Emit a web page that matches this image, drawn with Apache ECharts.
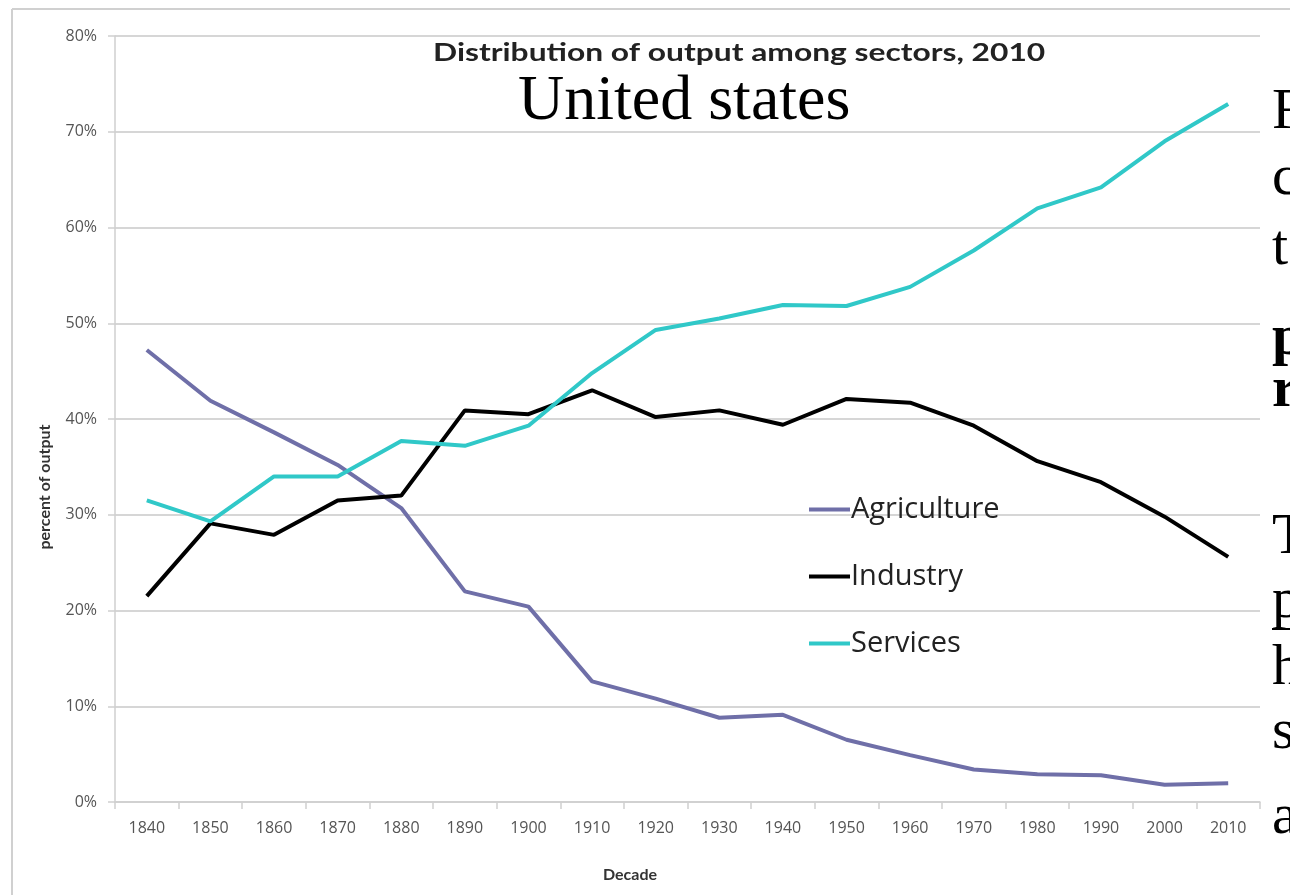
<!DOCTYPE html>
<html>
<head>
<meta charset="utf-8">
<script src="https://cdn.jsdelivr.net/npm/echarts@6/dist/echarts.min.js"></script>
<style>
html,body{margin:0;padding:0;background:#fff;}
#chart{width:1290px;height:895px;}
</style>
</head>
<body>
<div id="chart"></div>
<script>
const decades = ['1840','1850','1860','1870','1880','1890','1900','1910','1920','1930','1940','1950','1960','1970','1980','1990','2000','2010'];
const agriculture = [47.2,41.9,38.6,35.2,30.7,22.0,20.4,12.6,10.8,8.8,9.1,6.5,4.9,3.4,2.9,2.8,1.8,1.95];
const industry = [21.5,29.1,27.9,31.5,32.0,40.9,40.5,43.0,40.2,40.9,39.4,42.1,41.7,39.3,35.6,33.4,29.8,25.6];
const services = [31.5,29.3,34.0,34.0,37.7,37.2,39.3,44.8,49.3,50.5,51.9,51.8,53.8,57.6,62.0,64.2,69.0,72.9];
const yTicks = [0,10,20,30,40,50,60,70,80];
const sideLetters = ['F','c','t','p','r','T','p','h','s','a'];

const chart = echarts.init(document.getElementById('chart'));
const sans = '"Open Sans", Lato, sans-serif';
const letterY = [130,196,266,356,408,555,619,686,750,835];
const letterBold = [false,false,false,true,true,false,false,false,false,false];
const letterGraphics = sideLetters.map((ch,i)=>({
  type:'text', left:1272, top:letterY[i]-46,
  style:{text:ch, font:(letterBold[i]?'bold ':'')+'58px "Liberation Serif", "Times New Roman", serif', fill:'#000'}
}));
letterGraphics.push({type:'rect', shape:{x:1272,y:628,width:18,height:2}, style:{fill:'#000'}});

chart.setOption({
  animation:false,
  backgroundColor:'#fff',
  grid:{left:115,right:30,top:36,bottom:93},
  legend:{
    orient:'vertical', left:804, top:490, itemGap:38,
    icon:'rect', itemWidth:41, itemHeight:4,
    textStyle:{fontFamily:sans, fontSize:29, color:'#222', padding:[0,0,0,-4]},
    data:['Agriculture','Industry','Services']
  },
  xAxis:{
    type:'category', data:decades, boundaryGap:true,
    axisLine:{lineStyle:{color:'#cfcfcf', width:1.5}},
    axisTick:{show:true, length:7, lineStyle:{color:'#cfcfcf', width:1.5}},
    axisLabel:{fontFamily:sans, fontSize:16, color:'#555', margin:18}
  },
  yAxis:{
    type:'value', min:0, max:80, interval:10,
    axisLine:{show:true, lineStyle:{color:'#cfcfcf', width:1.5}},
    axisTick:{show:true, length:7, lineStyle:{color:'#cfcfcf', width:1.5}},
    axisLabel:{fontFamily:sans, fontSize:16, color:'#555', margin:18, formatter:v=> yTicks.includes(v) ? v+'%' : ''},
    splitLine:{lineStyle:{color:'#d6d6d6', width:2}}
  },
  series:[
    {name:'Agriculture', type:'line', data:agriculture, symbol:'none', lineStyle:{color:'#6f6fa8', width:4}, itemStyle:{color:'#6f6fa8'}},
    {name:'Industry', type:'line', data:industry, symbol:'none', lineStyle:{color:'#000', width:4}, itemStyle:{color:'#000'}},
    {name:'Services', type:'line', data:services, symbol:'none', lineStyle:{color:'#30c8c8', width:4}, itemStyle:{color:'#30c8c8'}}
  ],
  graphic:[
    {type:'line', shape:{x1:12,y1:9,x2:1290,y2:9}, style:{stroke:'#d0d0d0', lineWidth:2}},
    {type:'line', shape:{x1:12,y1:9,x2:12,y2:895}, style:{stroke:'#d0d0d0', lineWidth:2}},
    {type:'text', x:433, y:40, scaleX:1.27, style:{text:'Distribution of output among sectors, 2010', font:'bold 25px Lato, "Open Sans", sans-serif', fill:'#222'}},
    {type:'text', x:518, y:70, style:{text:'United states', font:'64px "Liberation Serif", "Times New Roman", serif', fill:'#000'}},
    {type:'text', x:45, y:487, rotation:Math.PI/2, style:{text:'percent of output', font:'bold 16px Lato, "Open Sans", sans-serif', fill:'#333', textAlign:'center', textVerticalAlign:'middle'}},
    {type:'text', x:630, y:875, style:{text:'Decade', font:'bold 16px Lato, "Open Sans", sans-serif', fill:'#333', textAlign:'center', textVerticalAlign:'middle'}}
  ].concat(letterGraphics)
});
</script>
</body>
</html>
